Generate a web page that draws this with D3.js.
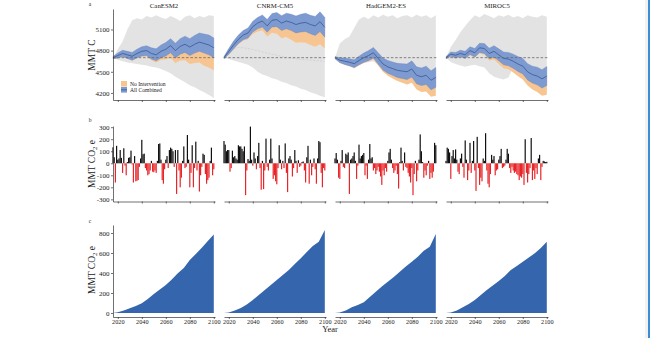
<!DOCTYPE html>
<html>
<head>
<meta charset="utf-8">
<script src="https://cdn.jsdelivr.net/npm/d3@7"></script>
<style>
  body { margin: 0; background: #ffffff; }
  svg { display: block; }
  text { font-family: "Liberation Serif", "Times New Roman", serif; fill: #222; }
</style>
</head>
<body>
<svg id="chart" width="650" height="338"></svg>
<script>
// ---- model names and tick labels ----
const models = ["CanESM2", "CNRM-CM5", "HadGEM2-ES", "MIROC5"];
const yearTicks = [2020, 2040, 2060, 2080, 2100];
const carbonTicks = [4200, 4500, 4800, 5100];
const fluxTicks = [-300, -200, -100, 0, 100, 200, 300];
const cumTicks = [0, 200, 400, 600, 800];
const legendLabels = ["No Intervention", "All Combined"];

// ---- panel a: carbon stock (MMT C), sampled every 4 years ----
const bandYears = [2016, 2020, 2024, 2028, 2032, 2036, 2040, 2044, 2048, 2052, 2056,
                   2060, 2064, 2068, 2072, 2076, 2080, 2084, 2088, 2092, 2096, 2100];
const baseline = 4700;

const grayUpper = [
  [4700, 4820, 4930, 5100, 5230, 5260, 5240, 5290, 5270, 5300, 5270, 5250, 5290, 5260, 5220, 5280, 5300, 5260, 5290, 5270, 5300, 5290],
  [4700, 4780, 4840, 4900, 4950, 4970, 5040, 5080, 5090, 5010, 5060, 5050, 4980, 4990, 4960, 4920, 4920, 4920, 4890, 4860, 4900, 4840],
  [4700, 4900, 4960, 5000, 5120, 5240, 5280, 5250, 5300, 5270, 5310, 5280, 5300, 5260, 5290, 5300, 5270, 5310, 5280, 5300, 5260, 5300],
  [4700, 4850, 4950, 5060, 5150, 5230, 5300, 5270, 5320, 5290, 5260, 5300, 5280, 5310, 5270, 5290, 5260, 5300, 5280, 5270, 5300, 5280]
];
const grayLower = [
  [4700, 4670, 4650, 4630, 4620, 4610, 4600, 4590, 4570, 4560, 4540, 4510, 4480, 4430, 4390, 4350, 4310, 4280, 4240, 4210, 4170, 4130],
  [4700, 4680, 4660, 4640, 4620, 4600, 4560, 4500, 4460, 4440, 4410, 4390, 4360, 4340, 4310, 4290, 4260, 4240, 4210, 4190, 4160, 4140],
  [4700, 4630, 4610, 4590, 4570, 4600, 4620, 4640, 4650, 4600, 4500, 4460, 4420, 4400, 4380, 4360, 4360, 4300, 4300, 4260, 4220, 4250],
  [4700, 4640, 4610, 4590, 4570, 4590, 4600, 4580, 4560, 4480, 4430, 4410, 4390, 4420, 4560, 4520, 4450, 4380, 4330, 4280, 4220, 4220]
];
const cnrmGrayMid = [4700, 4790, 4830, 4845, 4840, 4830, 4815, 4800, 4780, 4765, 4750, 4735, 4720, 4705, 4695, 4685, 4675, 4670, 4665, 4660, 4655, 4650];

const combinedMid = [
  [4700, 4730, 4760, 4740, 4720, 4760, 4790, 4800, 4760, 4740, 4790, 4820, 4870, 4800, 4860, 4890, 4850, 4890, 4920, 4900, 4880, 4840],
  [4700, 4790, 4880, 4960, 5020, 5050, 5140, 5190, 5220, 5150, 5230, 5240, 5190, 5220, 5200, 5170, 5190, 5200, 5170, 5150, 5210, 5130],
  [4700, 4665, 4650, 4635, 4615, 4660, 4700, 4730, 4770, 4690, 4610, 4570, 4545, 4520, 4510, 4500, 4540, 4450, 4430, 4450, 4380, 4420],
  [4700, 4750, 4735, 4760, 4740, 4800, 4770, 4840, 4830, 4760, 4790, 4740, 4690, 4680, 4650, 4610, 4580, 4500, 4460, 4440, 4400, 4440]
];
const noInterventionMid = [
  [4700, 4725, 4755, 4735, 4712, 4750, 4778, 4785, 4742, 4718, 4760, 4770, 4800, 4730, 4770, 4780, 4730, 4750, 4760, 4720, 4700, 4660],
  [4700, 4785, 4870, 4950, 5005, 5030, 5110, 5150, 5170, 5090, 5150, 5140, 5080, 5100, 5070, 5030, 5040, 5040, 5010, 4990, 5030, 4970],
  [4700, 4660, 4645, 4630, 4605, 4650, 4690, 4715, 4750, 4665, 4585, 4535, 4500, 4470, 4450, 4430, 4460, 4370, 4340, 4350, 4280, 4300],
  [4700, 4745, 4730, 4755, 4735, 4790, 4760, 4825, 4810, 4735, 4755, 4695, 4640, 4630, 4590, 4540, 4500, 4420, 4370, 4340, 4290, 4310]
];
// half-width of the uncertainty ribbons (MMT C)
const ribbonHalf = [
  [15, 35, 45, 50, 55, 60, 65, 70, 80, 85, 90, 95, 100, 105, 110, 115, 120, 125, 130, 135, 140, 140],
  [15, 40, 55, 60, 65, 70, 75, 80, 85, 90, 95, 100, 105, 110, 115, 120, 125, 130, 130, 135, 140, 140],
  [15, 35, 45, 50, 55, 60, 65, 70, 75, 80, 85, 90, 95, 100, 105, 110, 115, 120, 125, 130, 135, 140],
  [15, 30, 40, 45, 50, 55, 60, 65, 70, 75, 80, 85, 90, 95, 100, 105, 110, 115, 120, 125, 130, 135]
];

// ---- panel b: annual difference (MMT CO2 e), 2016-2100 ----
const fluxYears = d3.range(2016, 2101);
const annualFlux = [
  [133, 50, -160, 145, 30, 40, 110, 45, -80, 125, -20, -100, 10, 45, 50, 105, -10, -160, 60, -150, -145, -140, -30, 40, 195,
   75, 80, -40, -60, -100, -90, -60, 20, -70, -75, -60, -80, 20, 160, 165, 30, -140, -170, -50, 30, 60, -40, 110, 130, 120,
   100, -30, 110, -255, 110, -60, -200, -120, 20, 140, -40, -30, 235, 30, -200, -80, 150, -200, -40, 180, -60, 20, -235, -100, -30,
   80, 70, -90, -170, -140, -120, 20, 130, -100, -50],
  [185, 155, 100, 110, 110, -70, -40, 105, 50, 60, 40, 30, 150, 140, 140, 120, 100, 140, -265, -60, 35, 20, 305, 30, -20,
   90, 40, -50, 60, 170, -40, -220, 20, -215, -60, 205, -30, -60, 30, 205, 40, -130, -100, -150, -175, -40, 150, 30, -50, 20,
   -40, 165, -80, -240, 40, 60, 30, -110, -40, 110, 20, -80, 25, -30, -20, 10, 15, -60, -160, 50, 145, -170, 30, -100, -30,
   40, -50, -170, 40, 185, 175, -80, -200, -40, -60],
  [40, 85, 30, -120, -130, 20, 110, -30, -40, 80, 70, 90, -255, 30, 40, 60, 90, 20, -130, -20, 155, 40, 60, 70, 85,
   -100, -20, -130, 30, 160, 40, 50, -60, -40, -90, -60, -30, -70, -110, -180, -60, -100, -40, -70, 20, 90, 120, 30, -40, -80,
   -60, -20, -90, -210, 10, 130, 20, -60, 90, -30, -40, -80, -110, -160, -40, -265, -90, 20, -150, -60, 30, 240, 100, 10, -120,
   -60, -100, -20, 20, -130, -80, -120, -70, 170, 150],
  [20, 130, 120, 90, -130, 60, 110, 40, 115, 30, -70, -90, 40, 80, -30, -120, 190, 30, -140, -60, 170, -80, 20, 185, -60,
   -230, 220, -40, -180, -120, -150, 40, 20, 250, -60, -170, -200, -90, 70, 30, 60, -100, -60, -50, 30, 60, 120, -40, -30, -20,
   30, 120, 80, -40, -80, -30, -60, -80, -70, -90, -100, -140, -110, -120, -90, -180, 200, -80, -160, -90, -40, 210, -140, -60, -130,
   -40, -90, 40, 70, -140, -30, 20, 15, 10, 12]
];

// ---- panel c: cumulative difference (MMT CO2 e) ----
const cumYears = [2016, 2020, 2025, 2030, 2035, 2040, 2045, 2050, 2055, 2060, 2065, 2070, 2075, 2080, 2085, 2090, 2095, 2100];
const cumulative = [
  [0, 8, 25, 47, 70, 97, 140, 190, 235, 280, 335, 397, 450, 530, 590, 653, 720, 785],
  [0, 6, 25, 50, 85, 130, 180, 230, 280, 330, 380, 430, 490, 547, 610, 670, 713, 830],
  [0, 6, 25, 57, 80, 107, 160, 213, 265, 313, 360, 413, 465, 513, 563, 623, 663, 790],
  [0, 6, 25, 57, 90, 130, 180, 230, 275, 320, 370, 430, 470, 513, 555, 597, 650, 713]
];

// ---- layout ----
const svg = d3.select("#chart");
const colX = [113, 224, 335, 446];
const panelW = 102;
const colors = {
  gray: "#e3e3e3", orange: "#f7c591", blue: "#7d9bd1", blueEdge: "#5f80bf", blueLine: "#2f4f88",
  axis: "#333333", pos: "#111111", neg: "#e8262a", cum: "#3566ad"
};

const x = d3.scaleLinear().domain([2016, 2101]).range([0, panelW]);
const yA = d3.scaleLinear().domain([4100, 5390]).range([100, 9]);
const yB = d3.scaleLinear().domain([-318, 310]).range([201.5, 126]);
const yC = d3.scaleLinear().domain([-40, 880]).range([317, 225]);
const intFmt = d3.format("d");

function styleAxis(sel, size) {
  sel.selectAll("path, line").attr("stroke", colors.axis).attr("stroke-width", 0.7);
  sel.selectAll("text").attr("font-size", size).attr("fill", "#333")
    .attr("font-family", "Liberation Serif, Times New Roman, serif");
}

models.forEach((name, i) => {
  const g = svg.append("g").attr("transform", `translate(${colX[i]},0)`);

  // --- panel a ---
  const rows = bandYears.map((yr, k) => ({
    yr, glo: grayLower[i][k], ghi: grayUpper[i][k],
    c: combinedMid[i][k], n: noInterventionMid[i][k], h: ribbonHalf[i][k]
  }));
  g.append("path").datum(rows).attr("fill", colors.gray)
    .attr("d", d3.area().x(d => x(d.yr)).y0(d => yA(d.glo)).y1(d => yA(d.ghi)));
  if (i === 1) {
    g.append("path").datum(bandYears.map((yr, k) => ({ yr, v: cnrmGrayMid[k] })))
      .attr("fill", "none").attr("stroke", "#cdcdcd").attr("stroke-width", 0.8)
      .attr("stroke-dasharray", "2,1.5")
      .attr("d", d3.line().x(d => x(d.yr)).y(d => yA(d.v)));
  }
  g.append("path").datum(rows).attr("fill", colors.orange)
    .attr("d", d3.area().x(d => x(d.yr)).y0(d => yA(d.n - d.h)).y1(d => yA(d.n + d.h)));
  g.append("path").datum(rows).attr("fill", colors.blue)
    .attr("stroke", colors.blueEdge).attr("stroke-width", 0.35)
    .attr("d", d3.area().x(d => x(d.yr)).y0(d => yA(d.c - d.h)).y1(d => yA(d.c + d.h)));
  g.append("path").datum(rows).attr("fill", "none").attr("stroke", colors.blueLine)
    .attr("stroke-width", 0.7)
    .attr("d", d3.line().x(d => x(d.yr)).y(d => yA(d.c)));
  g.append("line").attr("x1", 0).attr("x2", panelW)
    .attr("y1", yA(baseline)).attr("y2", yA(baseline))
    .attr("stroke", "#666").attr("stroke-width", 0.8).attr("stroke-dasharray", "2.5,1.8");

  g.append("g").attr("transform", `translate(0,${yA.range()[0]})`)
    .call(d3.axisBottom(x).tickValues(yearTicks).tickSize(2).tickSizeOuter(0).tickFormat(""))
    .call(s => styleAxis(s, 7));

  g.append("text").attr("x", panelW / 2).attr("y", 7.5).attr("text-anchor", "middle")
    .attr("font-size", 6.8).text(name);

  // --- panel b ---
  g.selectAll("rect.flux").data(fluxYears.map((yr, k) => ({ yr, v: annualFlux[i][k] })))
    .enter().append("rect").attr("class", "flux")
    .attr("x", d => x(d.yr) - 0.6).attr("width", 1.2)
    .attr("y", d => yB(Math.max(0, d.v)))
    .attr("height", d => Math.abs(yB(d.v) - yB(0)))
    .attr("fill", d => d.v >= 0 ? colors.pos : colors.neg);
  g.append("g").attr("transform", `translate(0,${yB.range()[0]})`)
    .call(d3.axisBottom(x).tickValues(yearTicks).tickSize(2).tickSizeOuter(0).tickFormat(""))
    .call(s => styleAxis(s, 7));

  // --- panel c ---
  g.append("path").datum(cumYears.map((yr, k) => ({ yr, v: cumulative[i][k] })))
    .attr("fill", colors.cum)
    .attr("d", d3.area().x(d => x(d.yr)).y0(yC(0)).y1(d => yC(d.v)));
  g.append("g").attr("transform", `translate(0,${yC.range()[0]})`)
    .call(d3.axisBottom(x).tickValues(yearTicks).tickSize(2).tickSizeOuter(0)
      .tickPadding(1).tickFormat(intFmt))
    .call(s => styleAxis(s, 6.2));

  // left axes for the first column only
  if (i === 0) {
    g.append("g").call(d3.axisLeft(yA).tickValues(carbonTicks).tickSize(2).tickSizeOuter(0)
      .tickPadding(1.5).tickFormat(intFmt))
      .call(s => styleAxis(s, 7));
    g.append("g").call(d3.axisLeft(yB).tickValues(fluxTicks).tickSize(2).tickSizeOuter(0)
      .tickPadding(1.5).tickFormat(d => String(d)))
      .call(s => styleAxis(s, 7));
    g.append("g").call(d3.axisLeft(yC).tickValues(cumTicks).tickSize(2).tickSizeOuter(0)
      .tickPadding(1.5).tickFormat(intFmt))
      .call(s => styleAxis(s, 7));

    // legend
    const lg = g.append("g").attr("transform", "translate(8,81)");
    lg.append("rect").attr("width", 6).attr("height", 5.6).attr("fill", colors.orange);
    lg.append("rect").attr("y", 6).attr("width", 6).attr("height", 5.6).attr("fill", colors.blue);
    lg.append("line").attr("x1", 0).attr("x2", 6).attr("y1", 8.8).attr("y2", 8.8)
      .attr("stroke", colors.blueLine).attr("stroke-width", 0.7);
    legendLabels.forEach((t, k) => {
      lg.append("text").attr("x", 9).attr("y", 4.8 + k * 6).attr("font-size", 5.6).text(t);
    });
  }
});

// panel letters
[["a", 5.5], ["b", 121.5], ["c", 223]].forEach(([t, yy]) => {
  svg.append("text").attr("x", 90).attr("y", yy).attr("font-size", 5.5)
    .attr("text-anchor", "middle").text(t);
});

// axis titles
function yTitle(cy, withSub) {
  const t = svg.append("text").attr("transform", `translate(95,${cy}) rotate(-90)`)
    .attr("text-anchor", "middle").attr("font-size", 9.5);
  if (withSub) {
    t.append("tspan").text("MMT CO");
    t.append("tspan").attr("font-size", 6.8).attr("dy", 2).text("2");
    t.append("tspan").attr("dy", -2).text(" e");
  } else {
    t.text("MMT C");
  }
}
yTitle(55, false);
yTitle(164, true);
yTitle(270, true);

svg.append("text").attr("x", 330).attr("y", 332).attr("text-anchor", "middle")
  .attr("font-size", 8.5).text("Year");

// right-hand frame edge
svg.append("rect").attr("x", 645).attr("y", 0).attr("width", 3).attr("height", 338).attr("fill", "#f2f2f2");
svg.append("rect").attr("x", 648).attr("y", 0).attr("width", 2).attr("height", 338).attr("fill", "#3c8dd6");
</script>
</body>
</html>
